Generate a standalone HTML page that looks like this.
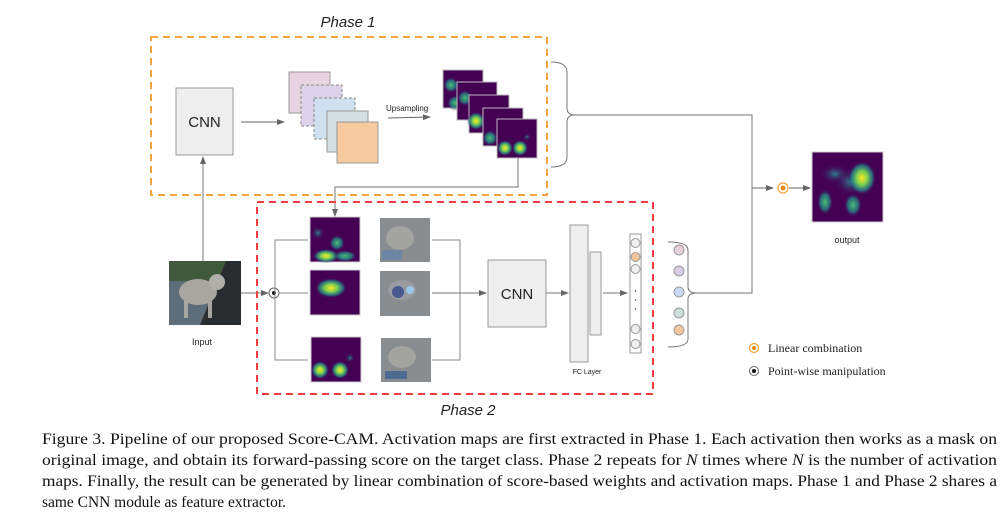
<!DOCTYPE html>
<html><head><meta charset="utf-8"><style>
html,body{margin:0;padding:0;background:#fff;width:1004px;height:515px;overflow:hidden}
svg{display:block}
.s{font-family:"Liberation Sans",sans-serif;fill:#222}
.c{font-family:"Liberation Serif",serif;font-size:16px;fill:#111}
</style></head><body>
<svg width="1004" height="515" viewBox="0 0 1004 515" xmlns="http://www.w3.org/2000/svg">
<defs>
<marker id="ar" markerWidth="8" markerHeight="8" refX="7" refY="4" orient="auto" markerUnits="userSpaceOnUse"><path d="M0,1 L8,4 L0,7 z" fill="#666"/></marker>
<radialGradient id="hy"><stop offset="0" stop-color="#fde725"/><stop offset="0.4" stop-color="#7ad151"/><stop offset="0.75" stop-color="#21918c" stop-opacity="0.7"/><stop offset="1" stop-color="#440154" stop-opacity="0"/></radialGradient>
<radialGradient id="hg"><stop offset="0" stop-color="#4ac16d"/><stop offset="0.6" stop-color="#21918c" stop-opacity="0.7"/><stop offset="1" stop-color="#440154" stop-opacity="0"/></radialGradient>
<radialGradient id="ht"><stop offset="0" stop-color="#2c7f8e"/><stop offset="1" stop-color="#440154" stop-opacity="0"/></radialGradient>
</defs>

<text x="348" y="27" class="s" font-size="15" font-style="italic" text-anchor="middle">Phase 1</text>
<rect x="151" y="37" width="396" height="158" fill="none" stroke="#f5a340" stroke-width="2" stroke-dasharray="7,5"/>
<rect x="176" y="88" width="57" height="67" fill="#eee" stroke="#999"/>
<text x="204.5" y="127" class="s" font-size="15" text-anchor="middle">CNN</text>
<line x1="241" y1="122" x2="284" y2="122" stroke="#666" marker-end="url(#ar)"/>
<rect x="289" y="72" width="41" height="41" fill="#e8d4e0" stroke="#999"/>
<rect x="301" y="85" width="41" height="41" fill="#dcd2ea" stroke="#888" stroke-dasharray="3,2"/>
<rect x="314" y="98" width="41" height="41" fill="#cfe0f0" stroke="#888" stroke-dasharray="3,2"/>
<rect x="327" y="111" width="41" height="41" fill="#d3dfe0" stroke="#999"/>
<rect x="337" y="122" width="41" height="41" fill="#f7c99e" stroke="#999"/>
<text x="386" y="111" class="s" font-size="8">Upsampling</text>
<line x1="388" y1="118" x2="430" y2="117" stroke="#666" marker-end="url(#ar)"/>
<rect x="443" y="70" width="40" height="38" fill="#440154" stroke="#bbb"/>
<circle cx="451" cy="85" r="8" fill="url(#hg)"/>
<circle cx="455" cy="103" r="8" fill="url(#hg)"/>
<rect x="457" y="82" width="40" height="38" fill="#440154" stroke="#bbb"/>
<circle cx="465" cy="98" r="8" fill="url(#hg)"/>
<rect x="469" y="95" width="40" height="38" fill="#440154" stroke="#bbb"/>
<circle cx="476" cy="121" r="9" fill="url(#hy)"/>
<rect x="483" y="108" width="40" height="38" fill="#440154" stroke="#bbb"/>
<circle cx="490" cy="138" r="8" fill="url(#hg)"/>
<rect x="497" y="119" width="40" height="39" fill="#440154" stroke="#bbb"/>
<circle cx="505" cy="148" r="8" fill="url(#hy)"/>
<circle cx="520" cy="148" r="8" fill="url(#hy)"/>
<circle cx="527" cy="137" r="4" fill="url(#ht)"/>
<path d="M551,62 Q567,62 567,72 L567,108 Q567,115 575,115 Q567,115 567,122 L567,157 Q567,167 551,167" fill="none" stroke="#777"/>
<polyline points="575,115 752,115 752,188" fill="none" stroke="#777"/>
<line x1="752" y1="188" x2="773" y2="188" stroke="#666" marker-end="url(#ar)"/>
<circle cx="783" cy="188" r="5" fill="#fff" stroke="#f5a340" stroke-width="1.2"/>
<circle cx="783" cy="188" r="2.5" fill="#f08a1c"/>
<line x1="789" y1="188" x2="810" y2="188" stroke="#666" marker-end="url(#ar)"/>
<rect x="812" y="152" width="71" height="70" fill="#440154" stroke="#ccc"/>
<ellipse cx="835" cy="174" rx="16" ry="10" fill="url(#ht)"/>
<ellipse cx="850" cy="182" rx="16" ry="14" fill="url(#ht)"/>
<ellipse cx="862" cy="178" rx="14" ry="17" fill="url(#hy)"/>
<ellipse cx="825" cy="202" rx="8" ry="13" fill="url(#hg)"/>
<ellipse cx="853" cy="205" rx="9" ry="12" fill="url(#hg)"/>
<text x="847" y="243" class="s" font-size="9" text-anchor="middle">output</text>
<polyline points="518,158 518,187 335,187 335,216" fill="none" stroke="#777" marker-end="url(#ar)"/>
<line x1="203" y1="261" x2="203" y2="157" stroke="#777" marker-end="url(#ar)"/>
<rect x="169" y="261" width="72" height="64" fill="#5e6d7a"/>
<rect x="169" y="261" width="72" height="20" fill="#3f5a3a"/>
<polygon points="226,261 241,261 241,325 200,325" fill="#2a2d30"/>
<ellipse cx="198" cy="292" rx="19" ry="13" fill="#a8a6a0"/>
<circle cx="217" cy="282" r="8" fill="#b0aea8"/>
<rect x="184" y="298" width="4" height="20" fill="#a8a6a0"/><rect x="208" y="298" width="4" height="20" fill="#a8a6a0"/>
<text x="202" y="345" class="s" font-size="9" text-anchor="middle">Input</text>
<line x1="241" y1="293" x2="268" y2="293" stroke="#777" marker-end="url(#ar)"/>
<circle cx="274" cy="293" r="5" fill="#fff" stroke="#666"/>
<circle cx="274" cy="293" r="2" fill="#111"/>
<rect x="257" y="202" width="396" height="192" fill="none" stroke="#f23c44" stroke-width="2" stroke-dasharray="7,5"/>
<text x="468" y="415" class="s" font-size="15" font-style="italic" text-anchor="middle">Phase 2</text>
<polyline points="308,240 275,240 275,360 308,360" fill="none" stroke="#888"/>
<line x1="279" y1="293" x2="308" y2="293" stroke="#888"/>
<rect x="310" y="217" width="50" height="45" fill="#440154" stroke="#ccc"/>
<circle cx="318" cy="233" r="7" fill="url(#ht)"/>
<circle cx="337" cy="243" r="8" fill="url(#hg)"/>
<ellipse cx="326" cy="256" rx="13" ry="7" fill="url(#hy)"/>
<ellipse cx="345" cy="256" rx="12" ry="6" fill="url(#hg)"/>
<rect x="310" y="270" width="50" height="45" fill="#440154" stroke="#ccc"/>
<ellipse cx="331" cy="288" rx="16" ry="10" fill="url(#hy)"/>
<rect x="311" y="337" width="50" height="45" fill="#440154" stroke="#ccc"/>
<circle cx="320" cy="370" r="9" fill="url(#hy)"/>
<circle cx="340" cy="370" r="9" fill="url(#hy)"/>
<circle cx="350" cy="358" r="5" fill="url(#ht)"/>
<rect x="380" y="218" width="50" height="44" fill="#8a8d90"/><ellipse cx="400" cy="238" rx="14" ry="12" fill="#a3a3a0"/><rect x="382" y="250" width="20" height="10" fill="#6d86a4"/>
<rect x="380" y="271" width="50" height="45" fill="#8a8d90"/><ellipse cx="402" cy="290" rx="14" ry="10" fill="#9a9ba0"/><circle cx="398" cy="292" r="6" fill="#4a5a90"/><circle cx="410" cy="290" r="4" fill="#9ac8e8"/>
<rect x="381" y="338" width="50" height="44" fill="#8a8d90"/><ellipse cx="402" cy="357" rx="14" ry="11" fill="#a3a3a0"/><rect x="385" y="371" width="22" height="8" fill="#4d6a90"/>
<polyline points="432,240 460,240 460,360 432,360" fill="none" stroke="#888"/>
<line x1="432" y1="293" x2="486" y2="293" stroke="#777" marker-end="url(#ar)"/>
<rect x="488" y="260" width="58" height="67" fill="#eee" stroke="#999"/>
<text x="517" y="299" class="s" font-size="15" text-anchor="middle">CNN</text>
<line x1="546" y1="293" x2="568" y2="293" stroke="#777" marker-end="url(#ar)"/>
<rect x="570" y="225" width="18" height="137" fill="#eee" stroke="#999"/>
<rect x="590" y="252" width="11" height="83" fill="#eee" stroke="#999"/>
<text x="587" y="374" class="s" font-size="7" text-anchor="middle">FC Layer</text>
<line x1="603" y1="293" x2="627" y2="293" stroke="#777" marker-end="url(#ar)"/>
<rect x="630" y="234" width="11" height="119" fill="#fff" stroke="#999"/>
<circle cx="635.5" cy="243" r="4.5" fill="#eee" stroke="#999"/>
<circle cx="635.5" cy="257" r="4.5" fill="#f5c49a" stroke="#999"/>
<circle cx="635.5" cy="269" r="4.5" fill="#eee" stroke="#999"/>
<circle cx="635.5" cy="291" r="0.7" fill="#333"/><circle cx="635.5" cy="300" r="0.7" fill="#333"/><circle cx="635.5" cy="309" r="0.7" fill="#333"/>
<circle cx="635.5" cy="329" r="4.5" fill="#eee" stroke="#999"/>
<circle cx="635.5" cy="344" r="4.5" fill="#eee" stroke="#999"/>
<circle cx="679" cy="250" r="5" fill="#e8d0dc" stroke="#999"/>
<circle cx="679" cy="271" r="5" fill="#d8cde8" stroke="#999"/>
<circle cx="679" cy="292" r="5" fill="#c8daf2" stroke="#999"/>
<circle cx="679" cy="313" r="5" fill="#cfdcdc" stroke="#999"/>
<circle cx="679" cy="330" r="5" fill="#f5c79c" stroke="#999"/>
<path d="M668,242 Q688,242 688,250 L688,287 Q688,293 697,293 Q688,293 688,299 L688,339 Q688,347 668,347" fill="none" stroke="#777"/>
<polyline points="697,293 752,293 752,188" fill="none" stroke="#777"/>
<circle cx="754" cy="348" r="4.5" fill="#fff" stroke="#f5a340" stroke-width="1.2"/><circle cx="754" cy="348" r="2" fill="#f08a1c"/>
<text x="768" y="352" font-family="Liberation Serif,serif" font-size="12" fill="#222">Linear combination</text>
<circle cx="754" cy="371" r="4.5" fill="#fff" stroke="#666"/><circle cx="754" cy="371" r="2" fill="#111"/>
<text x="768" y="375" font-family="Liberation Serif,serif" font-size="12" fill="#222">Point-wise manipulation</text>
<text x="42" y="444" class="c" textLength="955" lengthAdjust="spacingAndGlyphs">Figure 3. Pipeline of our proposed Score-CAM. Activation maps are first extracted in Phase 1. Each activation then works as a mask on</text>
<text x="42" y="465" class="c" textLength="955" lengthAdjust="spacingAndGlyphs">original image, and obtain its forward-passing score on the target class. Phase 2 repeats for <tspan font-style="italic">N</tspan> times where <tspan font-style="italic">N</tspan> is the number of activation</text>
<text x="42" y="486" class="c" textLength="955" lengthAdjust="spacingAndGlyphs">maps. Finally, the result can be generated by linear combination of score-based weights and activation maps. Phase 1 and Phase 2 shares a</text>
<text x="42" y="507" class="c" textLength="244" lengthAdjust="spacingAndGlyphs">same CNN module as feature extractor.</text>
</svg>
</body></html>
